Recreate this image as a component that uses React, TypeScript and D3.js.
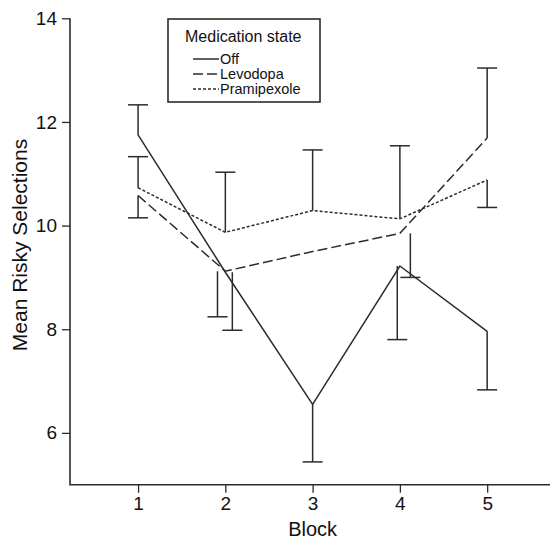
import React, { useEffect, useRef } from 'react';
import * as d3 from 'd3';

// blocks on the x axis
const blocks = [1, 2, 3, 4, 5];

// mean risky selections per medication state
const offMeans = [11.75, 9.1, 6.55, 9.22, 7.96];
const levodopaMeans = [10.58, 9.12, 9.5, 9.85, 11.69];
const pramipexoleMeans = [10.73, 9.87, 10.29, 10.13, 10.88];

// end of the one-sided error bar (null = not drawn)
const offErrEnd = [12.33, 7.98, 5.44, 7.8, 6.83];
const levodopaErrEnd = [10.15, 8.24, null, 9.0, 13.04];
const pramipexoleErrEnd = [11.33, 11.03, 11.46, 11.54, 10.35];

// small horizontal nudge of the error bars, in block units
const offErrNudge = [0, 0.08, 0, -0.03, 0];
const levodopaErrNudge = [0, -0.09, 0, 0.12, 0];
const pramipexoleErrNudge = [0, 0, 0, 0, 0];

const yTicks = [6, 8, 10, 12, 14];

const series = [
  { name: 'Off', means: offMeans, errEnd: offErrEnd, nudge: offErrNudge, dash: null },
  { name: 'Levodopa', means: levodopaMeans, errEnd: levodopaErrEnd, nudge: levodopaErrNudge, dash: '10,4' },
  { name: 'Pramipexole', means: pramipexoleMeans, errEnd: pramipexoleErrEnd, nudge: pramipexoleErrNudge, dash: '3,2' },
];

const W = 550;
const H = 542;
const ink = '#2b2b2b';
const font = '"Liberation Sans", Arial, Helvetica, sans-serif';

export default function App() {
  const ref = useRef<SVGSVGElement | null>(null);

  useEffect(() => {
    const svg = d3.select(ref.current);
    svg.selectAll('*').remove();

    const x = d3.scaleLinear().domain([0.22, 5.72]).range([70, 550]);
    const y = d3.scaleLinear().domain([5, 14]).range([484.7, 18.3]);

    svg.append('rect').attr('width', W).attr('height', H).attr('fill', '#fff');

    // y axis
    const gy = svg.append('g')
      .attr('transform', `translate(${x(0.22)},0)`)
      .call(d3.axisLeft(y).tickValues(yTicks).tickSize(8).tickSizeOuter(0).tickPadding(5).tickFormat(d3.format('d')));
    gy.select('.domain').remove();
    gy.selectAll('line').attr('stroke', ink).attr('stroke-width', 1.3);
    gy.selectAll('text').attr('font-family', font).attr('font-size', 19).attr('fill', '#111');

    // x axis
    const gx = svg.append('g')
      .attr('transform', `translate(0,${y(5)})`)
      .call(d3.axisBottom(x).tickValues(blocks).tickSize(8).tickSizeOuter(0).tickPadding(4).tickFormat(d3.format('d')));
    gx.select('.domain').remove();
    gx.selectAll('line').attr('stroke', ink).attr('stroke-width', 1.3);
    gx.selectAll('text').attr('font-family', font).attr('font-size', 19).attr('fill', '#111');

    svg.append('path')
      .attr('fill', 'none')
      .attr('stroke', ink)
      .attr('stroke-width', 1.6)
      .attr('d', `M${x(0.22)},${y(14)}V${y(5)}H${x(5.72)}`);

    // axis titles
    svg.append('text')
      .attr('x', x(3)).attr('y', 536)
      .attr('text-anchor', 'middle')
      .attr('font-family', font).attr('font-size', 20).attr('fill', '#111')
      .text('Block');
    svg.append('text')
      .attr('transform', `translate(27,${245}) rotate(-90)`)
      .attr('text-anchor', 'middle')
      .attr('font-family', font).attr('font-size', 21).attr('fill', '#111')
      .text('Mean Risky Selections');

    const lineGen = d3.line<number>()
      .x((d, i) => x(blocks[i]))
      .y(d => y(d));

    series.forEach(s => {
      svg.append('path')
        .attr('fill', 'none')
        .attr('stroke', ink)
        .attr('stroke-width', 1.5)
        .attr('stroke-dasharray', s.dash)
        .attr('d', lineGen(s.means));

      const g = svg.append('g').attr('stroke', ink).attr('stroke-width', 1.5);
      s.errEnd.forEach((e, i) => {
        if (e == null) return;
        const bx = x(blocks[i] + s.nudge[i]);
        g.append('line')
          .attr('x1', bx).attr('x2', bx)
          .attr('y1', y(s.means[i])).attr('y2', y(e));
        g.append('line')
          .attr('x1', bx - 10).attr('x2', bx + 10)
          .attr('y1', y(e)).attr('y2', y(e));
      });
    });

    // legend
    const lg = svg.append('g');
    lg.append('rect')
      .attr('x', 168).attr('y', 19).attr('width', 152).attr('height', 83)
      .attr('fill', '#fff').attr('stroke', ink).attr('stroke-width', 1.6);
    lg.append('text')
      .attr('x', 185).attr('y', 41.5)
      .attr('font-family', font).attr('font-size', 16).attr('fill', '#111')
      .text('Medication state');
    series.forEach((s, i) => {
      const yy = 59 + i * 15;
      lg.append('line')
        .attr('x1', 193).attr('x2', 219)
        .attr('y1', yy).attr('y2', yy)
        .attr('stroke', ink).attr('stroke-width', 1.5)
        .attr('stroke-dasharray', s.dash);
      lg.append('text')
        .attr('x', 220).attr('y', yy + 5)
        .attr('font-family', font).attr('font-size', 14.5).attr('fill', '#111')
        .text(s.name);
    });
  }, []);

  return (
    <svg ref={ref} width={W} height={H} style={{ position: 'absolute', left: 0, top: 0 }} />
  );
}
